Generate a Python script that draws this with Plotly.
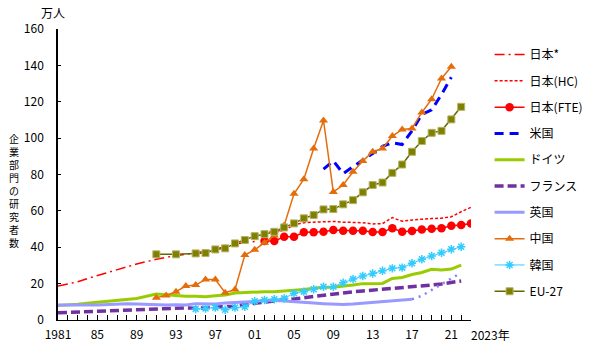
import plotly.graph_objects as go

# ---------------- data (万人) ----------------
jp_old_years = list(range(1981, 2002))
jp_old = [18.7, 19.8, 21.0, 22.8, 24.5, 26.0, 27.5, 29.2, 30.8, 32.2, 33.4,
          34.5, 35.5, 36.2, 36.8, 37.8, 39.0, 40.3, 41.8, 42.5, 43.2]

jp_years = list(range(2002, 2024))
jp_hc = [48.5, 49.0, 49.2, 52.3, 53.5, 53.8, 54.0, 54.2, 53.8, 53.8, 53.5,
         52.8, 53.0, 56.3, 54.3, 55.0, 55.5, 55.8, 56.0, 56.8, 59.5, 62.0]
jp_fte = [43.4, 43.4, 45.8, 45.8, 48.2, 48.2, 48.5, 49.5, 49.1, 49.1, 49.1,
          48.4, 48.4, 50.4, 48.5, 48.9, 49.8, 50.2, 50.4, 51.8, 52.2, 53.1]

us_years = list(range(2008, 2022))
us = [83.0, 87.5, 80.5, 84.5, 88.0, 91.5, 95.5, 97.5, 96.5, 104.0, 113.0,
      115.5, 124.0, 133.5]

de_years = [1981, 1983, 1985, 1987, 1989] + list(range(1991, 2023))
de = [8.0, 8.6, 9.8, 11.0, 11.8, 14.3, 13.8, 13.1, 13.0, 13.0, 12.8, 13.3,
      13.7, 14.8, 15.2, 15.4, 15.6, 15.6, 15.9, 16.2, 16.8, 17.4, 18.0, 18.0,
      18.5, 19.2, 20.0, 20.2, 20.1, 22.8, 23.4, 25.0, 26.1, 27.9, 27.5, 28.0,
      30.2]

fr_years = [1981, 1983, 1985, 1987, 1989] + list(range(1991, 2023))
fr = [4.0, 4.4, 4.9, 5.3, 5.8, 6.3, 6.5, 6.8, 6.7, 6.5, 6.8, 7.0, 7.3, 7.6,
      8.6, 9.3, 10.0, 10.6, 11.0, 11.6, 12.3, 13.0, 13.8, 14.3, 14.9, 15.5,
      16.0, 16.4, 16.8, 17.2, 17.6, 18.0, 18.6, 19.2, 19.8, 20.8, 21.5]

uk_years = list(range(1981, 2018))
uk = [8.2, 8.1, 8.0, 8.2, 8.3, 8.6, 8.8, 8.9, 8.8, 8.6, 8.3, 8.2, 8.4, 8.3,
      9.0, 8.7, 8.8, 9.3, 9.6, 9.5, 10.2, 10.8, 11.0, 10.5, 10.0, 9.6, 9.3,
      9.0, 8.6, 8.5, 8.8, 9.2, 9.6, 10.0, 10.5, 11.0, 11.4]
uk_new_years = list(range(2017, 2023))
uk_new = [11.4, 13.3, 16.5, 19.8, 22.8, 26.0]

cn_years = list(range(1991, 2022))
cn = [12.3, 13.5, 15.6, 18.7, 19.2, 22.3, 22.3, 15.0, 16.8, 35.7, 38.6,
      42.5, 46.5, 52.0, 69.4, 77.4, 94.3, 109.7, 70.4, 74.2, 81.5, 87.4,
      92.5, 94.3, 101.1, 104.8, 105.3, 114.1, 121.4, 132.8, 139.2]

kr_years = list(range(1995, 2023))
kr = [6.0, 6.3, 6.8, 5.6, 6.8, 7.3, 10.3, 11.0, 11.4, 11.9, 14.7, 15.6, 16.9,
      18.3, 18.3, 20.5, 22.5, 24.2, 25.6, 27.1, 28.4, 28.8, 31.2, 33.4, 35.2,
      37.0, 38.9, 40.3]

eu_years = [1991, 1993] + list(range(1995, 2023))
eu = [36.1, 36.1, 36.6, 36.8, 38.8, 39.4, 42.1, 44.0, 46.1, 47.2, 48.5, 50.9,
      53.1, 55.9, 57.7, 60.8, 61.0, 63.6, 65.9, 70.2, 74.2, 75.6, 80.9, 85.5,
      92.5, 98.4, 102.9, 104.0, 110.3, 117.2]

x_tickvals = [1981, 1985, 1989, 1993, 1997, 2001, 2005, 2009, 2013, 2017, 2021]
x_ticktext = ["1981", "85", "89", "93", "97", "01", "05", "09", "13", "17", "21"]
y_tickvals = [0, 20, 40, 60, 80, 100, 120, 140, 160]
y_title = "企業部門の研究者数"

FONT = "Noto Sans CJK JP"

fig = go.Figure()

def add(name, x, y, color, width, dash="solid", marker=None, showlegend=True, group=None):
    mode = "lines+markers" if marker else "lines"
    kw = dict(x=x, y=y, name=name, mode=mode,
              line=dict(color=color, width=width, dash=dash),
              showlegend=showlegend, legendgroup=group or name)
    if marker:
        kw["marker"] = marker
    fig.add_trace(go.Scatter(**kw))

RED = "#FF0000"
add("日本*", jp_old_years, jp_old, RED, 1.5, dash="10px,4px,2px,4px")
add("日本(HC)", jp_years, jp_hc, RED, 1.5, dash="3px,2px")
add("日本(FTE)", jp_years, jp_fte, RED, 1.5,
    marker=dict(symbol="circle", size=8.5, color=RED))
add("米国", us_years, us, "#0000FF", 3, dash="9px,6px")
add("ドイツ", de_years, de, "#99CC00", 3)
add("フランス", fr_years, fr, "#7030A0", 3.5, dash="9px,4px")
add("英国", uk_years, uk, "#9999FF", 3)
add("英国new", uk_new_years, uk_new, "#7F7FFF", 2.5, dash="2px,5px",
    showlegend=False, group="英国")
add("中国", cn_years, cn, "#E46C0A", 1.5,
    marker=dict(symbol="triangle-up", size=8, color="#E46C0A"))
add("韓国", kr_years, kr, "#33CCFF", 1,
    marker=dict(symbol="asterisk-open", size=7, color="#33CCFF",
                line=dict(width=1.5, color="#33CCFF")))
add("EU-27", eu_years, eu, "#666600", 1.5,
    marker=dict(symbol="square", size=7, color="#808000",
                line=dict(width=1, color="#B3B366")))

fig.update_layout(
    width=600, height=354,
    margin=dict(l=58, r=122, t=29, b=34),
    paper_bgcolor="white", plot_bgcolor="white",
    font=dict(family=FONT, size=12, color="black"),
    showlegend=True,
    legend=dict(x=1.045, xanchor="left", y=0.962, yanchor="top",
                traceorder="grouped", tracegroupgap=7.3,
                font=dict(family=FONT, size=12, color="black"),
                bgcolor="rgba(0,0,0,0)"),
    xaxis=dict(range=[1981, 2023], showgrid=False, zeroline=False,
               showline=True, linecolor="black", linewidth=1,
               tickmode="array", tickvals=x_tickvals, ticktext=x_ticktext,
               ticks="inside", ticklen=5, tickwidth=1, tickcolor="black",
               ticklabelstandoff=4,
               tickfont=dict(family=FONT, size=12),
               minor=dict(ticks="inside", dtick=1, tick0=1981, ticklen=5,
                          tickwidth=1, tickcolor="black", showgrid=False)),
    yaxis=dict(range=[0, 160], showgrid=False, zeroline=False,
               showline=True, linecolor="black", linewidth=1.5,
               tickmode="array", tickvals=y_tickvals,
               ticks="inside", ticklen=3, tickwidth=1, tickcolor="black",
               ticklabelstandoff=10,
               tickfont=dict(family=FONT, size=12)),
)

# unit label
fig.add_annotation(text="万人", x=(53 - 58) / 420, y=(320 - 13) / 291,
                   xref="paper", yref="paper", showarrow=False,
                   xanchor="center", yanchor="middle",
                   font=dict(size=12, family=FONT))

# vertical y-axis title (stacked characters)
fig.add_annotation(text="<br>".join(y_title), x=(13 - 58) / 420,
                   y=(320 - 190) / 291, xref="paper", yref="paper",
                   showarrow=False, xanchor="center", yanchor="middle",
                   font=dict(size=10, family=FONT))

# last x label
fig.add_annotation(text="2023年", x=2022.8, y=0, xref="x", yref="paper",
                   xanchor="left", yanchor="top", yshift=-4, showarrow=False,
                   font=dict(size=12, family=FONT))

fig.write_html("out.html")
